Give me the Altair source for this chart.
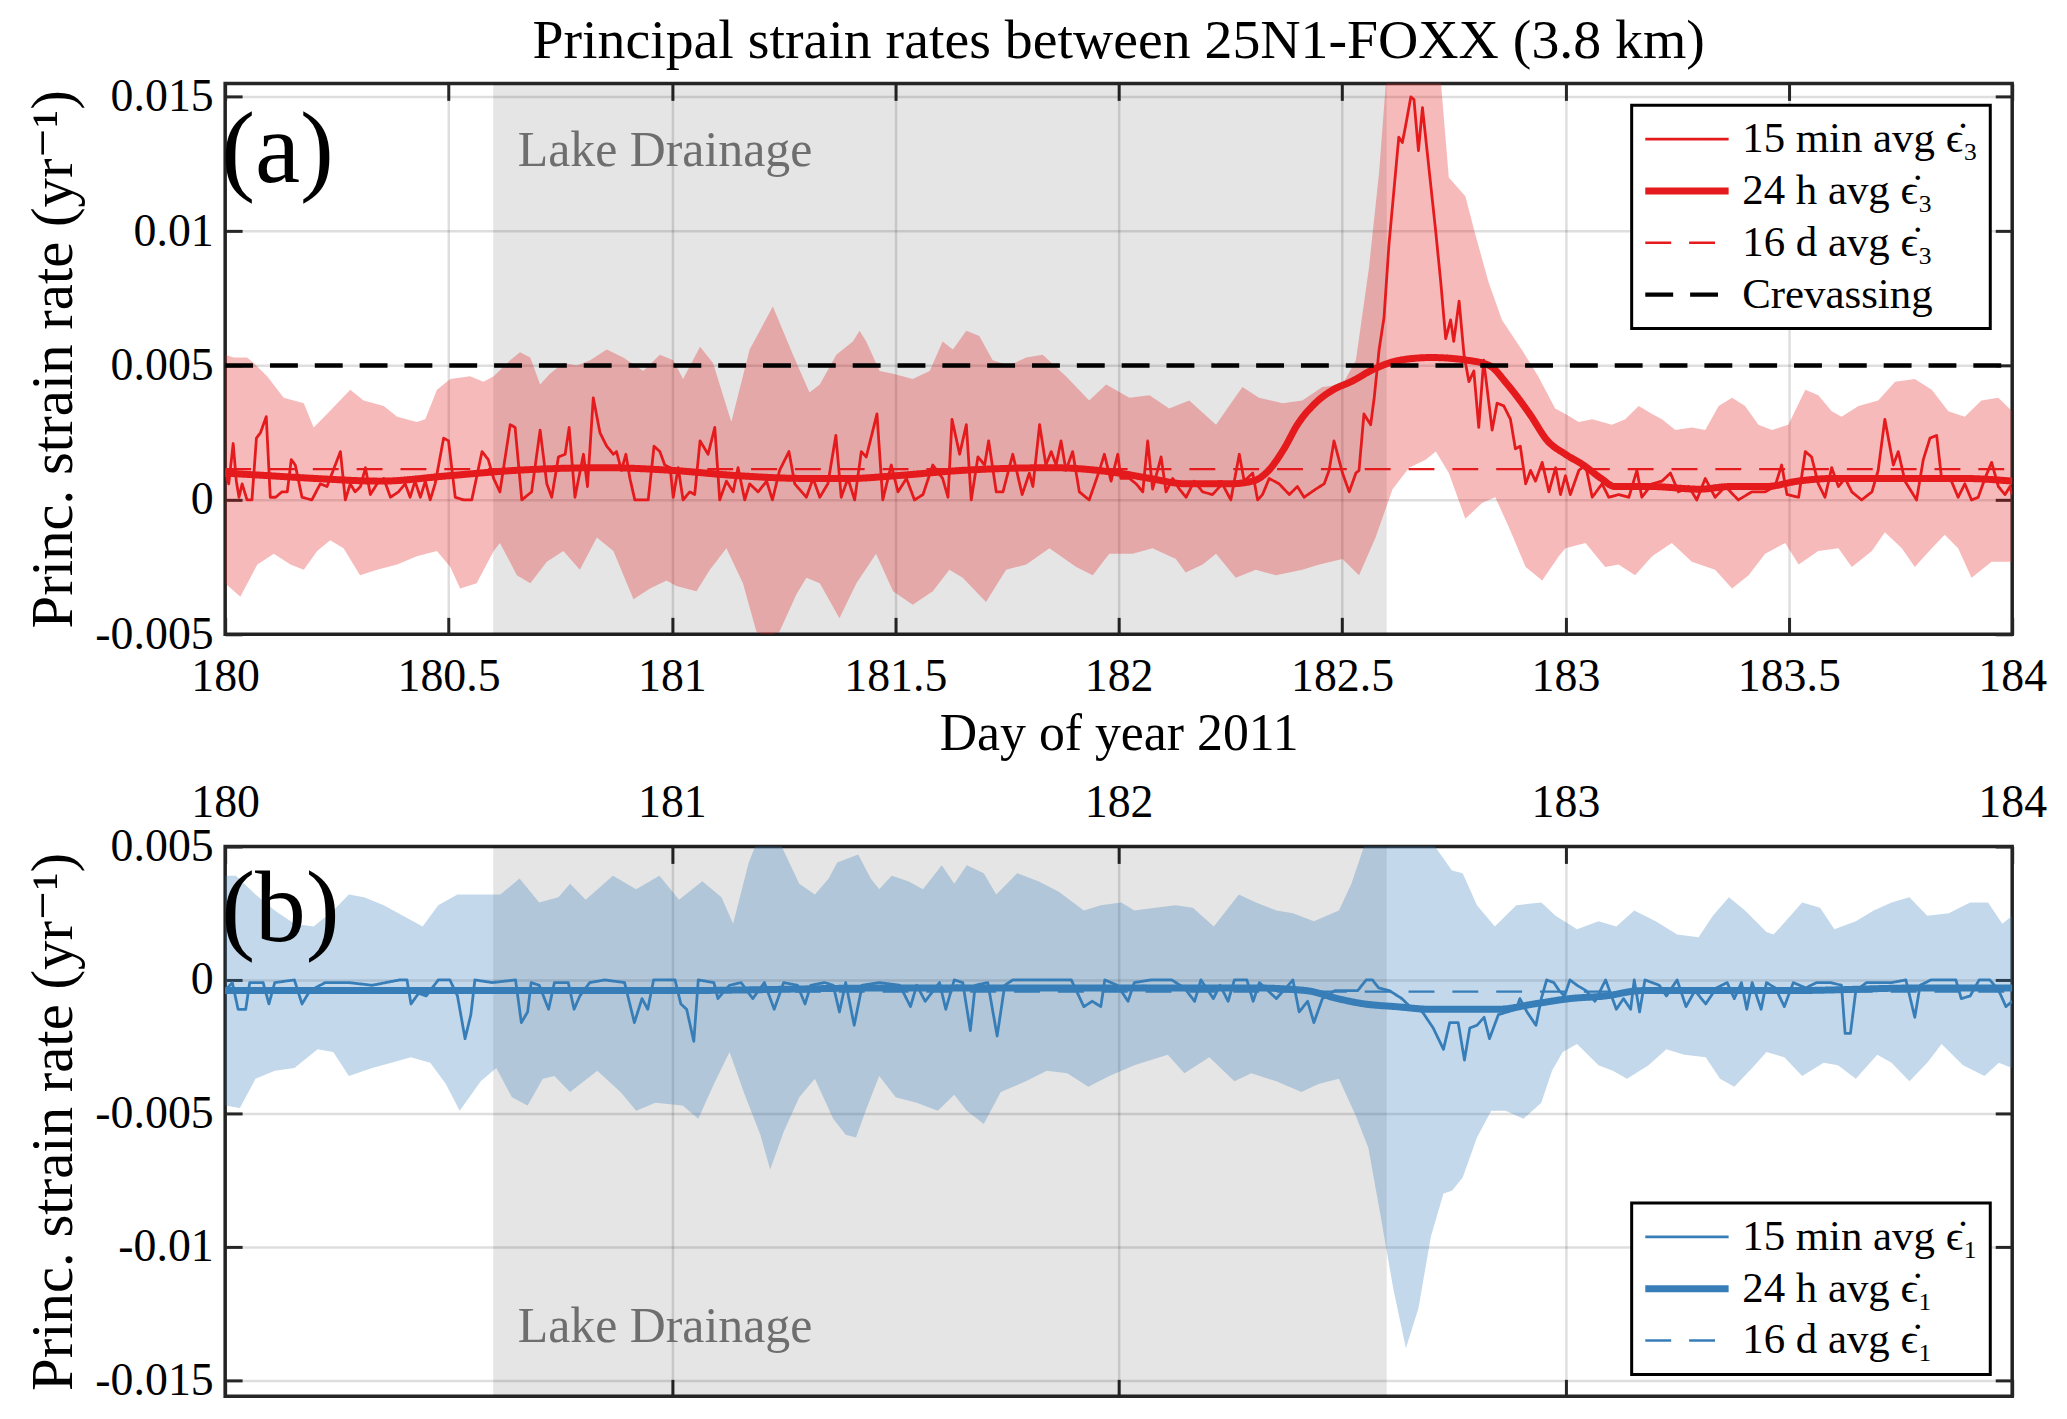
import altair as alt
import pandas as pd

# Strain-rate values below are in units of 1e-4 yr^-1 as (day, value).
UNIT = 1e-4

TITLE = "Principal strain rates between 25N1-FOXX (3.8 km)"
X_TITLE = "Day of year 2011"
Y_TITLE = "Princ. strain rate (yr\u207b\u00b9)"
EPS3 = "\u03f5\u0307\u2083"
EPS1 = "\u03f5\u0307\u2081"
TOP_SERIES = [f"15 min avg {EPS3}", f"24 h avg {EPS3}", f"16 d avg {EPS3}", "Crevassing"]
BOTTOM_SERIES = [f"15 min avg {EPS1}", f"24 h avg {EPS1}", f"16 d avg {EPS1}"]
LAKE_TEXT = "Lake Drainage"

DAY_RANGE = [180, 184]
LAKE_DRAINAGE = [180.6, 182.6]
TOP_X_TICKS = [180, 180.5, 181, 181.5, 182, 182.5, 183, 183.5, 184]
BOTTOM_X_TICKS = [180, 181, 182, 183, 184]
TOP_Y_TICKS = [-0.005, 0, 0.005, 0.01, 0.015]
BOTTOM_Y_TICKS = [-0.015, -0.01, -0.005, 0, 0.005]
TOP_Y_RANGE = [-0.005, 0.0155]
BOTTOM_Y_RANGE = [-0.0156, 0.005]

# ---- panel (a): most compressive principal strain rate ----
RED_15MIN = [
    (180.000, 11), (180.008, 6), (180.018, 21), (180.025, 7), (180.031, 1), (180.038, 6),
    (180.049, 0), (180.060, 0), (180.070, 23), (180.079, 25), (180.092, 31), (180.101, 1),
    (180.113, 1), (180.127, 3), (180.139, 3), (180.148, 15), (180.157, 13), (180.172, 1),
    (180.194, 0), (180.213, 6), (180.228, 5), (180.258, 18), (180.269, 0), (180.280, 6),
    (180.291, 3), (180.303, 5), (180.314, 12), (180.325, 2), (180.340, 6), (180.355, 8),
    (180.370, 1), (180.388, 3), (180.403, 6), (180.414, 1), (180.425, 7), (180.437, 1),
    (180.448, 7), (180.459, 0), (180.470, 6), (180.489, 23), (180.500, 22), (180.515, 1),
    (180.534, 0), (180.552, 0), (180.575, 18), (180.589, 15), (180.601, 8), (180.615, 3),
    (180.638, 28), (180.649, 27), (180.664, 0), (180.686, 3), (180.705, 26), (180.720, 6),
    (180.731, 1), (180.746, 16), (180.761, 17), (180.770, 27), (180.783, 1), (180.802, 17),
    (180.811, 5), (180.824, 38), (180.839, 25), (180.854, 20), (180.869, 17), (180.876, 18),
    (180.887, 11), (180.897, 17), (180.906, 8), (180.917, 0), (180.947, 0), (180.960, 20),
    (180.973, 18), (180.984, 13), (180.996, 12),
    (181.003, 1), (181.014, 12), (181.025, 0), (181.040, 3), (181.051, 2), (181.063, 22),
    (181.081, 17), (181.096, 27), (181.107, 0), (181.122, 7), (181.137, 3), (181.148, 12),
    (181.163, 0), (181.174, 6), (181.193, 3), (181.212, 7), (181.225, 0), (181.241, 11),
    (181.262, 18), (181.275, 6), (181.301, 1), (181.316, 8), (181.331, 1), (181.349, 6),
    (181.367, 24), (181.379, 1), (181.394, 8), (181.409, 0), (181.424, 18), (181.435, 16),
    (181.459, 32), (181.472, 0), (181.491, 13), (181.506, 3), (181.525, 8), (181.543, 0),
    (181.562, 2), (181.584, 13), (181.606, 8), (181.618, 1), (181.627, 30), (181.644, 17),
    (181.659, 28), (181.670, 0), (181.685, 16), (181.700, 13), (181.709, 22), (181.726, 3),
    (181.741, 3), (181.763, 17), (181.784, 2), (181.800, 10), (181.808, 5), (181.823, 28),
    (181.837, 13), (181.849, 18), (181.860, 13), (181.871, 22), (181.882, 11), (181.897, 18),
    (181.912, 3), (181.934, 0), (181.957, 11), (181.968, 17), (181.983, 7), (181.998, 17),
    (182.005, 8), (182.024, 8), (182.039, 6), (182.054, 3), (182.065, 22), (182.076, 4),
    (182.095, 16), (182.106, 3), (182.121, 8), (182.136, 4), (182.151, 1), (182.169, 7),
    (182.188, 3), (182.210, 2), (182.232, 6), (182.251, 0), (182.270, 17), (182.281, 7),
    (182.300, 10), (182.311, 0), (182.322, 2), (182.337, 8), (182.359, 6), (182.382, 2),
    (182.400, 5), (182.415, 1), (182.441, 4), (182.460, 6), (182.471, 11), (182.482, 22),
    (182.501, 10), (182.516, 3), (182.531, 10), (182.538, 11), (182.549, 32), (182.564, 28),
    (182.572, 38), (182.583, 56), (182.594, 68), (182.605, 95), (182.616, 115), (182.627, 135),
    (182.635, 133), (182.642, 139), (182.654, 150), (182.661, 149), (182.671, 130), (182.680, 146),
    (182.698, 118), (182.709, 101), (182.721, 81), (182.732, 60), (182.743, 67), (182.750, 59),
    (182.762, 74), (182.773, 54), (182.784, 44), (182.795, 48), (182.806, 27), (182.817, 52),
    (182.836, 26), (182.847, 36), (182.862, 35), (182.877, 30), (182.888, 19), (182.899, 20),
    (182.911, 6), (182.922, 11), (182.933, 7), (182.948, 14), (182.963, 3), (182.978, 12),
    (182.989, 2),
    (183.000, 9), (183.011, 2), (183.030, 11), (183.045, 13), (183.060, 1), (183.082, 6),
    (183.097, 1), (183.119, 2), (183.142, 1), (183.160, 11), (183.171, 1), (183.194, 6),
    (183.216, 7), (183.235, 10), (183.253, 3), (183.276, 5), (183.294, 0), (183.313, 8),
    (183.335, 1), (183.358, 5), (183.387, 0), (183.417, 3), (183.447, 3), (183.469, 5),
    (183.484, 13), (183.496, 2), (183.522, 1), (183.537, 18), (183.551, 16), (183.566, 6),
    (183.581, 1), (183.596, 12), (183.611, 5), (183.626, 8), (183.641, 3), (183.663, 0),
    (183.686, 3), (183.700, 11), (183.715, 30), (183.734, 13), (183.745, 18), (183.760, 7),
    (183.786, 0), (183.801, 15), (183.816, 23), (183.831, 24), (183.842, 8), (183.864, 7),
    (183.879, 1), (183.894, 6), (183.909, 0), (183.924, 1), (183.939, 8), (183.954, 14),
    (183.969, 5), (183.984, 2), (183.995, 5), (184.000, 2),
]

RED_24H = [
    (180.00, 10), (180.10, 9), (180.20, 8), (180.35, 7), (180.50, 9), (180.65, 11),
    (180.85, 12), (181.00, 11), (181.15, 9), (181.30, 8), (181.40, 8), (181.50, 9),
    (181.65, 11), (181.85, 12), (182.00, 10), (182.07, 8), (182.15, 6), (182.25, 6),
    (182.30, 7), (182.33, 10), (182.37, 19), (182.40, 28), (182.44, 36), (182.48, 41),
    (182.52, 44), (182.575, 49), (182.63, 52), (182.70, 53), (182.78, 52), (182.83, 50),
    (182.87, 43), (182.92, 32), (182.96, 22), (183.00, 17), (183.04, 13), (183.08, 8),
    (183.11, 5), (183.19, 5), (183.30, 4), (183.37, 5), (183.45, 5), (183.52, 7),
    (183.60, 8), (183.67, 8), (183.75, 8), (183.82, 8), (183.89, 8), (184.00, 7),
]

RED_BAND_HI = [
    (180.000, 54), (180.019, 53), (180.049, 53), (180.064, 51), (180.094, 46), (180.131, 38),
    (180.176, 36), (180.198, 27), (180.228, 32), (180.280, 41), (180.310, 37), (180.355, 35),
    (180.385, 31), (180.429, 29), (180.448, 30), (180.474, 41), (180.504, 45), (180.548, 46),
    (180.578, 44), (180.601, 46), (180.638, 52), (180.660, 55), (180.683, 53), (180.705, 43),
    (180.727, 47), (180.757, 51), (180.787, 50), (180.817, 52), (180.854, 56), (180.891, 53),
    (180.936, 48), (180.973, 54), (181.003, 52), (181.025, 45), (181.063, 57), (181.092, 51),
    (181.133, 29), (181.174, 56), (181.226, 72), (181.271, 54), (181.308, 40), (181.331, 43),
    (181.368, 54), (181.405, 59), (181.420, 63), (181.435, 59), (181.465, 48), (181.495, 47),
    (181.539, 45), (181.577, 48), (181.606, 59), (181.629, 56), (181.659, 63), (181.688, 61),
    (181.718, 52), (181.755, 50), (181.793, 53), (181.830, 54), (181.882, 46), (181.934, 37),
    (181.972, 43), (182.024, 38), (182.069, 39), (182.113, 34), (182.158, 37), (182.218, 28),
    (182.247, 35), (182.277, 42), (182.314, 38), (182.367, 36), (182.411, 37), (182.456, 42),
    (182.501, 43), (182.531, 52), (182.560, 86), (182.583, 122), (182.598, 155), (182.630, 175),
    (182.670, 185), (182.700, 175), (182.721, 156), (182.739, 120), (182.776, 113), (182.798, 99),
    (182.828, 81), (182.858, 67), (182.902, 56), (182.939, 46), (182.977, 34), (183.000, 32),
    (183.030, 29), (183.060, 30), (183.104, 28), (183.134, 30), (183.164, 35), (183.194, 32),
    (183.216, 30), (183.246, 26), (183.283, 27), (183.313, 26), (183.343, 35), (183.373, 38),
    (183.402, 35), (183.432, 28), (183.462, 26), (183.499, 28), (183.537, 41), (183.566, 39),
    (183.596, 33), (183.618, 31), (183.656, 35), (183.700, 37), (183.738, 44), (183.782, 45),
    (183.820, 41), (183.857, 33), (183.894, 31), (183.931, 37), (183.969, 38), (184.000, 33),
]

RED_BAND_LO = [
    (180.000, -31), (180.034, -36), (180.072, -24), (180.109, -20), (180.146, -24), (180.176, -26),
    (180.206, -19), (180.235, -15), (180.265, -18), (180.302, -28), (180.340, -26), (180.385, -24),
    (180.429, -21), (180.474, -19), (180.504, -25), (180.526, -33), (180.563, -31), (180.601, -19),
    (180.615, -16), (180.653, -28), (180.683, -31), (180.720, -23), (180.757, -19), (180.794, -26),
    (180.832, -14), (180.869, -19), (180.914, -37), (180.951, -33), (180.988, -30), (181.010, -32),
    (181.055, -34), (181.085, -26), (181.122, -18), (181.159, -31), (181.189, -49), (181.212, -51),
    (181.241, -49), (181.279, -35), (181.301, -29), (181.331, -31), (181.375, -44), (181.413, -31),
    (181.457, -20), (181.495, -34), (181.539, -39), (181.584, -34), (181.621, -26), (181.651, -29),
    (181.703, -38), (181.748, -26), (181.793, -24), (181.845, -18), (181.905, -25), (181.942, -28),
    (181.979, -20), (182.031, -20), (182.076, -18), (182.128, -22), (182.150, -27), (182.188, -24),
    (182.218, -20), (182.262, -29), (182.307, -26), (182.352, -28), (182.411, -26), (182.449, -24),
    (182.501, -22), (182.538, -28), (182.575, -14), (182.613, 4), (182.650, 12), (182.687, 15),
    (182.710, 18), (182.739, 10), (182.776, -7), (182.814, -1), (182.843, 1), (182.873, -10),
    (182.911, -25), (182.948, -30), (182.985, -21), (183.000, -18), (183.045, -16), (183.089, -25),
    (183.119, -24), (183.156, -28), (183.194, -21), (183.238, -16), (183.283, -23), (183.335, -26),
    (183.373, -33), (183.410, -28), (183.447, -20), (183.492, -16), (183.522, -24), (183.566, -19),
    (183.611, -18), (183.641, -25), (183.686, -19), (183.715, -12), (183.753, -18), (183.782, -25),
    (183.820, -18), (183.849, -13), (183.879, -18), (183.909, -29), (183.954, -23), (184.000, -23),
]

RED_16D = 11.5
CREVASSING = 50

# ---- panel (b): most tensile principal strain rate ----
BLUE_15MIN = [
    (180.000, -4), (180.016, -1), (180.029, -11), (180.046, -11), (180.055, -1), (180.085, -1),
    (180.098, -9), (180.111, -1), (180.155, 0), (180.172, -9), (180.190, -4), (180.224, -1),
    (180.277, -1), (180.329, -2), (180.390, 0), (180.407, 0), (180.416, -9), (180.433, -5),
    (180.450, -6), (180.477, 0), (180.503, 0), (180.520, -6), (180.537, -22), (180.550, -13),
    (180.559, 0), (180.598, -1), (180.650, 0), (180.663, -16), (180.677, -12), (180.685, -1),
    (180.703, -2), (180.724, -11), (180.737, -1), (180.768, -1), (180.781, -11), (180.794, -6),
    (180.816, -1), (180.850, 0), (180.894, -1), (180.916, -16), (180.933, -7), (180.946, -11),
    (180.959, 0), (181.007, 0), (181.020, -9), (181.033, -11), (181.049, -23), (181.059, 0),
    (181.094, -1), (181.103, -7), (181.129, -2), (181.155, -1), (181.181, -7), (181.207, -1),
    (181.229, -11), (181.250, -1), (181.281, -2), (181.298, -9), (181.311, -2),
    (181.342, -1), (181.361, -2), (181.375, -12), (181.389, -1), (181.408, -17), (181.426, -2),
    (181.464, -1), (181.510, -2), (181.534, -10), (181.548, -2), (181.567, -8), (181.599, -1),
    (181.613, -11), (181.632, 0), (181.651, -1), (181.668, -19), (181.679, -2), (181.707, -1),
    (181.728, -21), (181.745, -2), (181.763, 0), (181.829, 0), (181.894, 0), (181.922, -10),
    (181.941, -8), (181.960, -10), (181.969, 0), (181.997, -2), (182.021, -8), (182.035, -1),
    (182.072, 0), (182.119, 0), (182.147, -3), (182.170, -8), (182.184, 0), (182.212, -7),
    (182.227, -2), (182.245, -8), (182.259, 0), (182.287, 0), (182.301, -8), (182.315, -1),
    (182.353, -7), (182.390, 0), (182.404, -12), (182.423, -8), (182.437, -16), (182.456, -7),
    (182.484, -4), (182.512, -4), (182.535, -4), (182.554, 0), (182.568, 0), (182.582, -3),
    (182.606, -4), (182.634, -7), (182.652, -10), (182.680, -12), (182.704, -18), (182.727, -26),
    (182.741, -16), (182.760, -16), (182.774, -30),
    (182.786, -18), (182.802, -17), (182.818, -14), (182.830, -22), (182.850, -13), (182.890, -11),
    (182.898, -7), (182.914, -12), (182.934, -17), (182.946, -7), (182.958, 0), (182.974, -1),
    (182.986, -4), (182.998, -6), (183.010, 0), (183.026, -2), (183.046, -4), (183.066, -8),
    (183.090, 0), (183.114, -11), (183.130, -7), (183.146, -11), (183.154, 0), (183.166, -12),
    (183.178, 0), (183.210, -2), (183.226, -6), (183.250, 0), (183.270, -10), (183.290, -4),
    (183.314, -9), (183.338, -3), (183.362, -1), (183.378, -7), (183.394, -1), (183.406, -11),
    (183.418, -1), (183.438, -11), (183.450, -1), (183.470, -3), (183.490, -10), (183.510, -1),
    (183.538, -3), (183.562, -1), (183.594, -1), (183.618, -2), (183.626, -20), (183.638, -20),
    (183.650, -4), (183.674, -1), (183.730, -1), (183.762, 0), (183.782, -14), (183.794, -2),
    (183.818, 0), (183.874, 0), (183.886, -7), (183.906, -6), (183.926, 0), (183.950, 0),
    (183.970, -4), (183.986, -10), (184.000, -8),
]

BLUE_24H = [
    (180.00, -4), (180.50, -4), (181.00, -4), (181.50, -3), (182.00, -3), (182.30, -3),
    (182.42, -4), (182.49, -7), (182.55, -9), (182.62, -10), (182.70, -11), (182.78, -11),
    (182.85, -11), (182.93, -9), (183.01, -7), (183.09, -6), (183.17, -4), (183.50, -4),
    (183.80, -3), (184.00, -3),
]

BLUE_BAND_HI = [
    (180.000, 39), (180.024, 39), (180.068, 32), (180.111, 26), (180.155, 21), (180.198, 20),
    (180.242, 26), (180.277, 32), (180.311, 31), (180.355, 28), (180.398, 24), (180.442, 20),
    (180.477, 28), (180.520, 32), (180.572, 32), (180.616, 32), (180.659, 38), (180.703, 29),
    (180.746, 31), (180.772, 36), (180.807, 30), (180.868, 39), (180.920, 34), (180.972, 39),
    (181.016, 30), (181.068, 37), (181.111, 31), (181.137, 21), (181.172, 44), (181.198, 55),
    (181.240, 52), (181.285, 36), (181.320, 32), (181.351, 38), (181.370, 44), (181.417, 47),
    (181.445, 38), (181.464, 34), (181.492, 39), (181.529, 37), (181.562, 34), (181.604, 43),
    (181.632, 36), (181.660, 43), (181.698, 40), (181.726, 32), (181.773, 40), (181.820, 37),
    (181.866, 33), (181.922, 26), (181.960, 28), (182.006, 29), (182.035, 26), (182.082, 27),
    (182.128, 28), (182.166, 27), (182.213, 20), (182.269, 32), (182.307, 29), (182.353, 26),
    (182.390, 25), (182.437, 22), (182.493, 26), (182.521, 36), (182.549, 50), (182.577, 63),
    (182.633, 70), (182.708, 50), (182.746, 41), (182.770, 40), (182.802, 28), (182.842, 20),
    (182.890, 28), (182.946, 29), (182.978, 24), (183.026, 19), (183.074, 22), (183.114, 20),
    (183.154, 26), (183.202, 22), (183.250, 17), (183.298, 16), (183.330, 24), (183.366, 31),
    (183.402, 26), (183.450, 18), (183.466, 17), (183.530, 29), (183.570, 27), (183.602, 19),
    (183.650, 22), (183.690, 26), (183.730, 29), (183.770, 31), (183.810, 24), (183.858, 25),
    (183.906, 29), (183.946, 29), (183.978, 21), (184.000, 24),
]

BLUE_BAND_LO = [
    (180.000, -47), (180.033, -48), (180.068, -37), (180.111, -34), (180.155, -33), (180.207, -26),
    (180.242, -27), (180.277, -36), (180.329, -33), (180.372, -31), (180.416, -29), (180.459, -31),
    (180.494, -39), (180.525, -49), (180.572, -38), (180.607, -33), (180.642, -44), (180.677, -47),
    (180.711, -37), (180.737, -36), (180.772, -42), (180.833, -34), (180.885, -42), (180.920, -49),
    (180.963, -46), (181.024, -47), (181.059, -52), (181.094, -39), (181.129, -27), (181.163, -43),
    (181.198, -58), (181.220, -71), (181.250, -57), (181.285, -44), (181.320, -37), (181.361, -52),
    (181.389, -58), (181.412, -59), (181.436, -48), (181.464, -36), (181.501, -44), (181.548, -46),
    (181.595, -49), (181.632, -43), (181.660, -49), (181.698, -54), (181.736, -42), (181.792, -38),
    (181.839, -34), (181.885, -35), (181.932, -40), (181.979, -36), (182.035, -32), (182.072, -30),
    (182.110, -28), (182.147, -35), (182.203, -29), (182.259, -38), (182.297, -35), (182.353, -38),
    (182.409, -42), (182.447, -39), (182.493, -37), (182.531, -51), (182.559, -63), (182.587, -89),
    (182.615, -116), (182.643, -138), (182.671, -123), (182.699, -96), (182.727, -80), (182.746, -79),
    (182.770, -74), (182.802, -59), (182.834, -49), (182.866, -49), (182.906, -52), (182.946, -46),
    (182.970, -34), (182.994, -27), (183.026, -24), (183.074, -32), (183.106, -34), (183.138, -37),
    (183.186, -32), (183.226, -26), (183.266, -28), (183.314, -29), (183.346, -37), (183.378, -40),
    (183.418, -33), (183.450, -27), (183.490, -29), (183.530, -36), (183.578, -31), (183.610, -32),
    (183.650, -37), (183.698, -28), (183.730, -31), (183.770, -38), (183.810, -31), (183.842, -24),
    (183.890, -32), (183.938, -36), (183.970, -31), (184.000, -33),
]

BLUE_16D = -4.4

# annotation anchors (day, strain rate)
TAG_DAY = 180.0
LAKE_LABEL_DAY = 180.655
TOP_TAG_RATE = 0.0130
BOTTOM_TAG_RATE = 0.0026
TOP_LAKE_RATE = 0.0130
BOTTOM_LAKE_RATE = -0.0130

# ---- styling ----
RED = "#e41a1c"
BLUE = "#377eb8"
INK = "#262626"
FONT = "Liberation Serif, DejaVu Serif, serif"
TICK = 17
WIDTH, TOP_HEIGHT, BOTTOM_HEIGHT = 1794, 553, 552
X_LABELS = "format(datum.value, '.4~g')"
Y_LABELS = ("datum.value == 0 ? '0' : (datum.value < 0 ? '-' : '') + "
            "format(abs(datum.value), '.3~f')")


def legend_width_expr(series, widths):
    # per-entry symbol stroke width, so the legend shows thin, thick and dashed lines
    expr = str(widths[0])
    for name, w in reversed(list(zip(series[1:], widths[1:]))):
        expr = f"(datum.value == '{name}' ? {w} : {expr})"
    return expr


def frame(points, series, sid):
    return pd.DataFrame({
        "day": [d for d, _ in points],
        "rate": [v * UNIT for _, v in points],
        "series": series,
        "sid": sid,
    })


def flat(value, series, sid):
    return frame([(DAY_RANGE[0], value), (DAY_RANGE[1], value)], series, sid)


def band_frame(upper, lower):
    outline = list(upper) + list(reversed(lower))
    return pd.DataFrame({
        "day": [d for d, _ in outline],
        "rate": [v * UNIT for _, v in outline],
        "k": list(range(len(outline))),
    })


def grid_axis(orient, values):
    return alt.Axis(orient=orient, values=values, grid=True, gridColor="black",
                    gridOpacity=0.13, gridWidth=2.5, labels=False, ticks=False,
                    domain=False, title=None)


def tick_axis(orient, values, **extra):
    # ticks point inwards: the axis is pulled into the plot by its own tick length
    opts = dict(orient=orient, values=values, grid=False, domain=False, ticks=True,
                tickSize=TICK, tickWidth=3, tickColor=INK, offset=-TICK,
                labels=False, title=None)
    opts.update(extra)
    return alt.Axis(**opts)


LABEL_STYLE = dict(labels=True, labelFont=FONT, labelFontSize=46, labelColor="black",
                   labelFlush=False, labelOverlap=False)
Y_AXIS_STYLE = dict(LABEL_STYLE, labelPadding=12, labelExpr=Y_LABELS, title=Y_TITLE,
                    titleFont=FONT, titleFontSize=59, titleFontWeight="normal",
                    titleColor="black", titlePadding=11)


def panel(*, band, band_color, thin, thick, refs, series, colors, dashes, widths,
          legend_widths, y_range, y_ticks, x_grid, x_main_axis, x_other_axis, tag,
          tag_rate, lake_rate, legend_orient, height):
    xs = alt.Scale(domain=DAY_RANGE, nice=False, zero=False)
    ys = alt.Scale(domain=y_range, nice=False, zero=False)

    def x(axis):
        return alt.X("day:Q", scale=xs, axis=axis)

    def y(axis):
        return alt.Y("rate:Q", scale=ys, axis=axis)

    legend = alt.Legend(
        title=None, orient=legend_orient, offset=22, padding=12,
        fillColor="white", strokeColor="black", symbolType="stroke",
        symbolSize=7000,
        symbolStrokeWidth=alt.ExprRef(expr=legend_width_expr(series, legend_widths)),
        clipHeight=44, rowPadding=8, labelOffset=12, labelFont=FONT,
        labelFontSize=43, labelColor="black", labelLimit=600,
    )
    style = dict(
        color=alt.Color("series:N", scale=alt.Scale(domain=series, range=colors),
                        legend=legend),
        strokeDash=alt.StrokeDash("series:N", scale=alt.Scale(domain=series, range=dashes),
                                  legend=legend),
        strokeWidth=alt.StrokeWidth(
            "sid:Q", legend=None,
            scale=alt.Scale(type="threshold", domain=[0.5, 1.5, 2.5][:len(series) - 1],
                            range=widths)),
    )

    lake = alt.Chart(pd.DataFrame({"start": [LAKE_DRAINAGE[0]], "end": [LAKE_DRAINAGE[1]]})
                     ).mark_rect(color="black", opacity=0.1).encode(
        x=alt.X("start:Q", scale=xs, axis=grid_axis("bottom", x_grid)), x2="end:Q")
    spread = alt.Chart(band).mark_line(
        filled=True, fill=band_color, fillOpacity=0.3, strokeWidth=0, clip=True
    ).encode(x=x(None), y=y(grid_axis("left", y_ticks)), order="k:Q")
    line15 = alt.Chart(thin).mark_line(clip=True, strokeJoin="round").encode(
        x=x(x_main_axis), y=y(tick_axis("left", y_ticks, **Y_AXIS_STYLE)), **style)
    line24 = alt.Chart(thick).mark_line(clip=True, interpolate="monotone",
                                        strokeCap="round").encode(
        x=x(None), y=y(None), **style)
    flat_lines = alt.Chart(refs).mark_line(clip=True).encode(x=x(None), y=y(None), **style)
    lake_label = alt.Chart(pd.DataFrame({"day": [LAKE_LABEL_DAY], "rate": [lake_rate],
                                         "text": [LAKE_TEXT]})).mark_text(
        align="left", baseline="middle", font=FONT, fontSize=50, color="#6e6e6e"
    ).encode(x=x(x_other_axis), y=y(tick_axis("right", y_ticks)), text="text:N")
    tag_label = alt.Chart(pd.DataFrame({"day": [TAG_DAY], "rate": [tag_rate],
                                        "text": [tag]})).mark_text(
        align="left", baseline="middle", font=FONT, fontSize=102, color="black", dx=-4
    ).encode(x=x(None), y=y(None), text="text:N")

    return alt.layer(lake, spread, line15, line24, flat_lines, lake_label, tag_label
                     ).resolve_scale(x="independent", y="independent"
                     ).properties(width=WIDTH, height=height)


top = panel(
    band=band_frame(RED_BAND_HI, RED_BAND_LO), band_color=RED,
    thin=frame(RED_15MIN, TOP_SERIES[0], 0),
    thick=frame(RED_24H, TOP_SERIES[1], 1),
    refs=pd.concat([flat(RED_16D, TOP_SERIES[2], 2), flat(CREVASSING, TOP_SERIES[3], 3)]),
    series=TOP_SERIES, colors=[RED, RED, RED, "black"],
    dashes=[[1, 0], [1, 0], [26, 18], [28, 17]], widths=[2.8, 7, 2.2, 4.5],
    legend_widths=[2.8, 7, 2.5, 4.5],
    y_range=TOP_Y_RANGE, y_ticks=TOP_Y_TICKS, x_grid=TOP_X_TICKS,
    x_main_axis=tick_axis("bottom", TOP_X_TICKS, labelPadding=20, labelExpr=X_LABELS,
                          title=X_TITLE, titleFont=FONT, titleFontSize=52,
                          titleFontWeight="normal", titleColor="black", titlePadding=10,
                          **LABEL_STYLE),
    x_other_axis=tick_axis("top", TOP_X_TICKS),
    tag="(a)", tag_rate=TOP_TAG_RATE, lake_rate=TOP_LAKE_RATE,
    legend_orient="top-right", height=TOP_HEIGHT,
).properties(title=alt.TitleParams(TITLE, font=FONT, fontSize=56, fontWeight="normal",
                                   color="black", anchor="middle", offset=4))

bottom = panel(
    band=band_frame(BLUE_BAND_HI, BLUE_BAND_LO), band_color=BLUE,
    thin=frame(BLUE_15MIN, BOTTOM_SERIES[0], 0),
    thick=frame(BLUE_24H, BOTTOM_SERIES[1], 1),
    refs=flat(BLUE_16D, BOTTOM_SERIES[2], 2),
    series=BOTTOM_SERIES, colors=[BLUE, BLUE, BLUE],
    dashes=[[1, 0], [1, 0], [26, 18]], widths=[2.8, 7, 2.2],
    legend_widths=[2.8, 7, 2.5],
    y_range=BOTTOM_Y_RANGE, y_ticks=BOTTOM_Y_TICKS, x_grid=BOTTOM_X_TICKS,
    x_main_axis=tick_axis("bottom", BOTTOM_X_TICKS),
    x_other_axis=tick_axis("top", BOTTOM_X_TICKS, labelPadding=20, labelExpr=X_LABELS,
                           **LABEL_STYLE),
    tag="(b)", tag_rate=BOTTOM_TAG_RATE, lake_rate=BOTTOM_LAKE_RATE,
    legend_orient="bottom-right", height=BOTTOM_HEIGHT,
)

chart = alt.vconcat(top, bottom, spacing=16).resolve_scale(
    color="independent", strokeDash="independent", strokeWidth="independent"
).properties(
    padding={"left": 15, "top": 0, "right": 10, "bottom": 4}, background="white"
).configure_view(stroke=INK, strokeWidth=3.5).configure_legend(strokeWidth=3)

chart.save("out.html", embed_options={"renderer": "svg", "actions": False})
